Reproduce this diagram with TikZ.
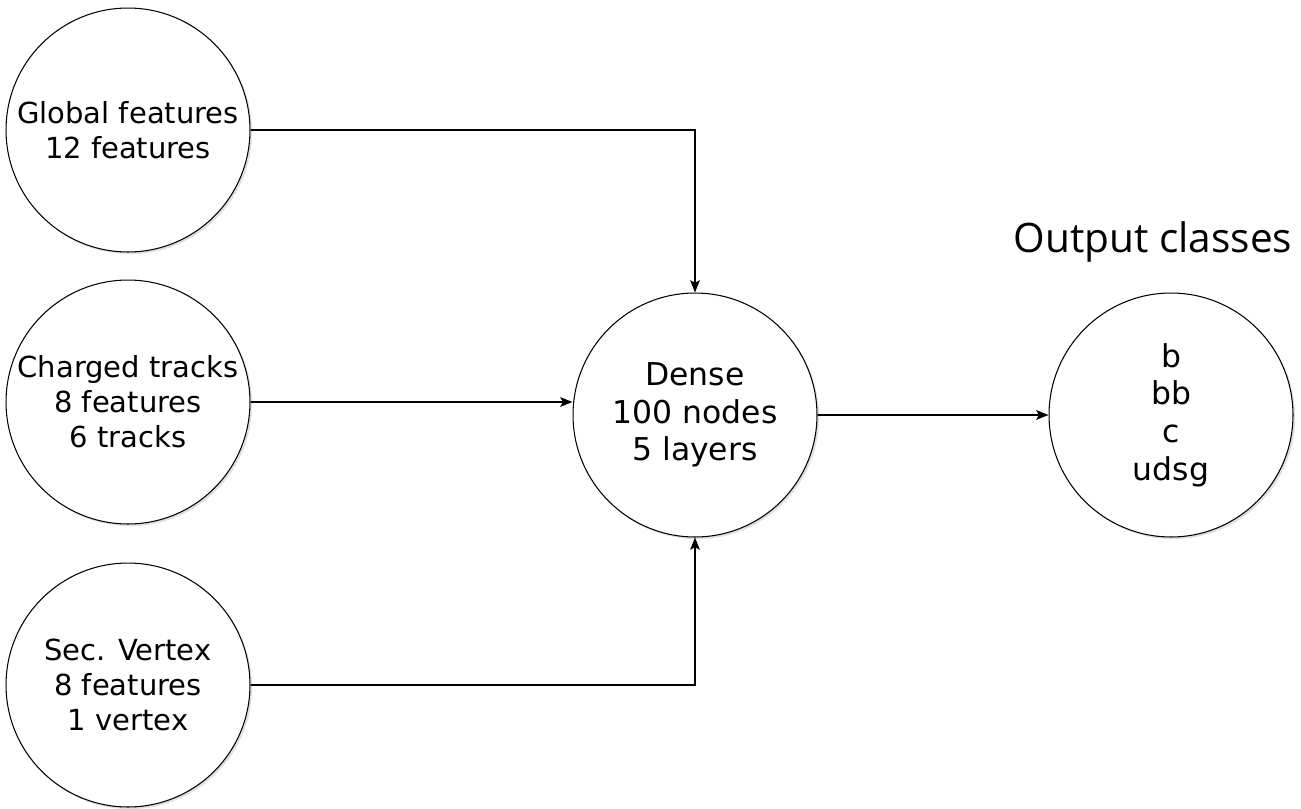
\documentclass[tikz,border=0pt]{standalone}
\usepackage{fontspec}
\setmainfont{DejaVu Sans}
\newfontfamily\titlefont{Open Sans}
\usetikzlibrary{arrows.meta,shadows}

\tikzset{
  unit/.style={circle,draw=black,fill=white,line width=0.6pt,minimum size=4.88cm,
    align=center,inner sep=0pt,drop shadow={shadow xshift=1.2pt,shadow yshift=-1.2pt,opacity=0.25}},
  inunit/.style={unit,font=\fontsize{16.5}{20}\selectfont},
  bigunit/.style={unit,font=\fontsize{17.9}{21.4}\selectfont},
  link/.style={line width=0.6pt,-{Stealth[length=7pt,width=5.5pt,inset=1.5pt]}}
}

\begin{document}
\begin{tikzpicture}[x=0.02cm,y=-0.02cm]
          \useasboundingbox (0,0) rectangle (1301,808);
          % inputs
          \node[inunit] (global)  at (128,130) {Global features\\12 features};
          \node[inunit] (charged) at (128,402) {Charged tracks\\8 features\\6 tracks};
          \node[inunit] (secvtx)  at (128,685) {Sec. Vertex\\8 features\\1 vertex};
          % network and outputs
          \node[bigunit] (dense)  at (695,415) {Dense\\100 nodes\\5 layers};
          \node[bigunit] (output) at (1171,415) {b\\bb\\c\\udsg};
          \node[anchor=base,font=\titlefont\fontsize{23.1}{28}\selectfont] (outtitle) at (1153,252) {Output classes};
          \draw[link] (global.east) -| (dense.north);
          \draw[link] (charged.east) -- (charged.east -| dense.west);
          \draw[link] (secvtx.east) -| (dense.south);
          \draw[link] (dense.east) -- (output.west);
\end{tikzpicture}
\end{document}
